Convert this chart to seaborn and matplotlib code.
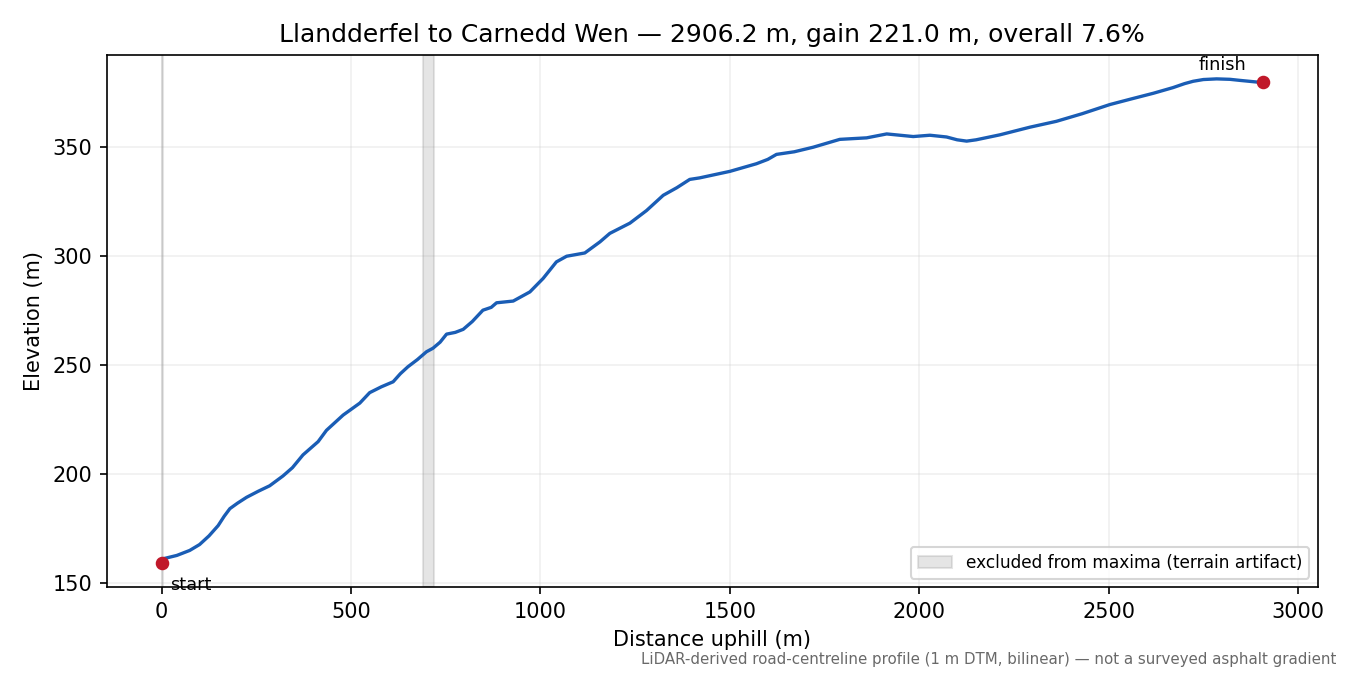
import numpy as np
import pandas as pd
import seaborn as sns
import matplotlib.pyplot as plt

# profile
dist = [0, 40, 74, 100, 125, 149, 165, 180, 200, 224, 255, 285, 320, 345, 373,
        413, 435, 479, 523, 549, 580, 611, 630, 650, 675, 699, 716, 735, 752,
        775, 796, 820, 848, 870, 884, 928, 972, 1007, 1042, 1069, 1117, 1157,
        1183, 1236, 1280, 1324, 1360, 1394, 1420, 1500, 1570, 1600, 1623, 1670,
        1720, 1790, 1820, 1861, 1914, 1984, 2028, 2072, 2100, 2125, 2150,
        2213, 2292, 2362, 2430, 2503, 2560, 2618, 2670, 2700, 2723, 2750,
        2785, 2820, 2847, 2906]
elev = [160.8, 162.5, 164.8, 167.5, 171.5, 176.2, 180.5, 184.0, 186.5, 189.2,
        192.0, 194.5, 199.0, 202.8, 208.7, 214.8, 220.0, 227.0, 232.5, 237.3,
        240.0, 242.3, 246.0, 249.2, 252.5, 256.1, 257.7, 260.5, 264.2, 265.0,
        266.4, 270.0, 275.2, 276.5, 278.6, 279.4, 283.6, 289.8, 297.4, 300.0,
        301.5, 306.6, 310.5, 315.2, 321.0, 328.0, 331.5, 335.3, 336.0, 339.0,
        342.5, 344.5, 346.8, 348.0, 350.1, 353.7, 354.0, 354.4, 356.2, 355.0,
        355.6, 354.8, 353.5, 352.9, 353.5, 355.8, 359.3, 362.0, 365.5, 369.7,
        372.3, 374.9, 377.5, 379.3, 380.4, 381.2, 381.5, 381.3, 380.8, 379.8]

start = (0, 159.0)
finish = (2906.2, 380.0)
spans = [(0, 3), (690, 720)]

df = pd.DataFrame({"dist": dist, "elev": elev})

sns.set_style("ticks")
plt.rcParams["font.family"] = ["DejaVu Sans"]
plt.rcParams["text.color"] = "black"
plt.rcParams["axes.labelcolor"] = "black"
plt.rcParams["xtick.color"] = "black"
plt.rcParams["ytick.color"] = "black"

fig, ax = plt.subplots(figsize=(9, 4.5), dpi=150)
fig.subplots_adjust(left=0.079, right=0.976, top=0.919, bottom=0.130)

for i, (a, b) in enumerate(spans):
    ax.axvspan(a, b, color="grey", alpha=0.2,
               label="excluded from maxima (terrain artifact)" if i == 1 else None)

sns.lineplot(data=df, x="dist", y="elev", ax=ax, color="#1a5db5", linewidth=1.6)
ax.plot(*start, "o", color="#c0182a", markersize=5.5, zorder=5)
ax.plot(*finish, "o", color="#c0182a", markersize=5.5, zorder=5)

ax.annotate("start", start, xytext=(4, -6), textcoords="offset points",
            va="top", fontsize=8.5)
ax.annotate("finish", finish, xytext=(-8, 4), textcoords="offset points",
            ha="right", va="bottom", fontsize=8.5)

ax.grid(alpha=0.3)
ax.set_xlabel("Distance uphill (m)")
ax.set_ylabel("Elevation (m)")
ax.set_title("Llandderfel to Carnedd Wen \u2014 2906.2 m, gain 221.0 m, overall 7.6%",
             fontsize=12)
ax.legend(loc="lower right", fontsize=8.2)
for s in ax.spines.values():
    s.set_color("black")

fig.text(0.99, 0.012,
         "LiDAR-derived road-centreline profile (1 m DTM, bilinear) \u2014 not a surveyed asphalt gradient",
         ha="right", va="bottom", fontsize=7.2, color="dimgrey")

fig.savefig("out.png")
